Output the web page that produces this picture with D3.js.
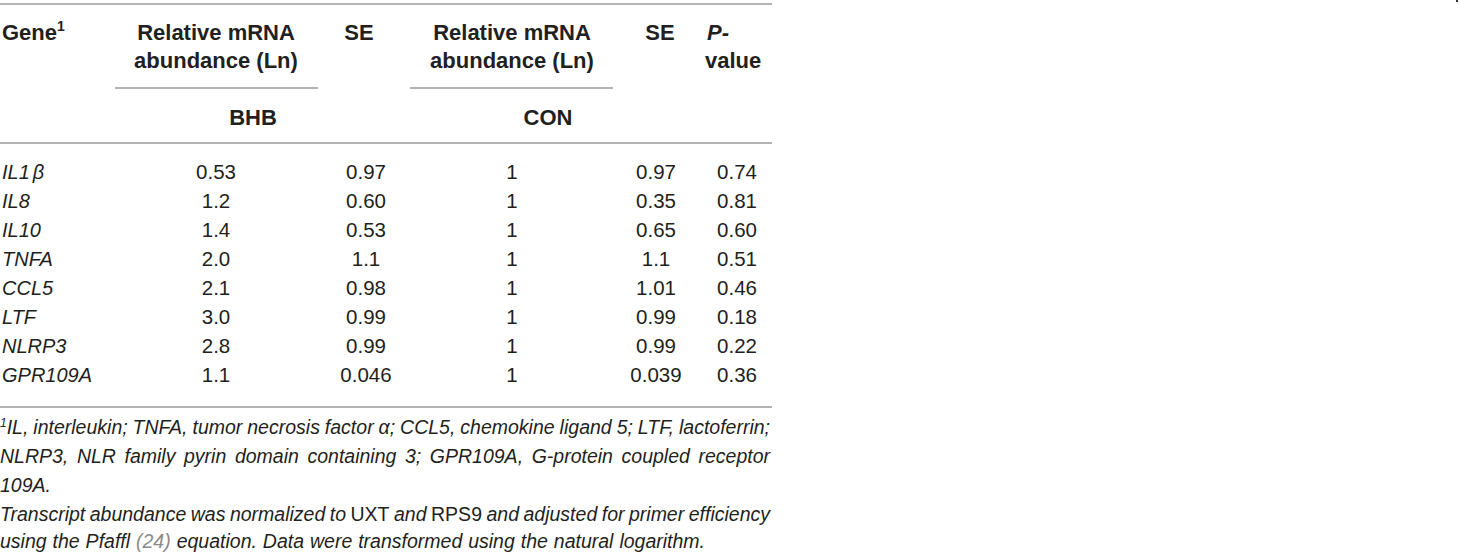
<!DOCTYPE html>
<html>
  <head>
    <meta charset="utf-8" />
    <title>Relative mRNA abundance table</title>
    <style>
      body {
        margin: 0;
        background: #fff;
      }
      text {
        font-family: 'Liberation Sans', Arial, sans-serif;
        fill: #231f20;
      }
      .rule {
        stroke: #9a9a9a;
        stroke-width: 1.5px;
      }
      .head {
        font-size: 22px;
        font-weight: bold;
      }
      .cell {
        font-size: 20.5px;
      }
      .gene {
        font-size: 20px;
        font-style: italic;
      }
      .note {
        font-size: 19.5px;
        font-style: italic;
      }
    </style>
    <script src="https://d3js.org/d3.v7.min.js"></script>
  </head>
  <body>
    <svg width="1460" height="554"></svg>
    <script>
      // table values
      var genes = ['IL1β', 'IL8', 'IL10', 'TNFA', 'CCL5', 'LTF', 'NLRP3', 'GPR109A']
      var bhb = ['0.53', '1.2', '1.4', '2.0', '2.1', '3.0', '2.8', '1.1']
      var seBhb = ['0.97', '0.60', '0.53', '1.1', '0.98', '0.99', '0.99', '0.046']
      var con = ['1', '1', '1', '1', '1', '1', '1', '1']
      var seCon = ['0.97', '0.35', '0.65', '1.1', '1.01', '0.99', '0.99', '0.039']
      var pValues = ['0.74', '0.81', '0.60', '0.51', '0.46', '0.18', '0.22', '0.36']

      var svg = d3.select('svg')

      // rows
      var y = d3.scalePoint().domain(genes).range([179, 382])

      // columns (x is the centre of each column)
      var columns = [
        { values: bhb, x: 216 },
        { values: seBhb, x: 366 },
        { values: con, x: 512 },
        { values: seCon, x: 656 },
        { values: pValues, x: 737 },
      ]

      // rules
      var rules = [
        { x1: 0, x2: 772, y: 4 },
        { x1: 115, x2: 318, y: 88 },
        { x1: 410, x2: 613, y: 88 },
        { x1: 0, x2: 772, y: 143 },
        { x1: 0, x2: 772, y: 407 },
      ]
      svg
        .selectAll('.rule')
        .data(rules)
        .enter()
        .append('line')
        .attr('class', 'rule')
        .attr('x1', function (d) {
          return d.x1
        })
        .attr('x2', function (d) {
          return d.x2
        })
        .attr('y1', function (d) {
          return d.y
        })
        .attr('y2', function (d) {
          return d.y
        })

      // header
      var gene = svg.append('text').attr('class', 'head').attr('x', 2).attr('y', 40)
      gene.append('tspan').text('Gene')
      gene.append('tspan').attr('font-size', 14).attr('dy', -9).text('1')

      var heads = [
        { x: 216, lines: ['Relative mRNA', 'abundance (Ln)'] },
        { x: 359, lines: ['SE'] },
        { x: 512, lines: ['Relative mRNA', 'abundance (Ln)'] },
        { x: 660, lines: ['SE'] },
      ]
      heads.forEach(function (h) {
        h.lines.forEach(function (s, i) {
          svg
            .append('text')
            .attr('class', 'head')
            .attr('x', h.x)
            .attr('y', 40 + i * 28)
            .attr('text-anchor', 'middle')
            .text(s)
        })
      })
      svg
        .append('text')
        .attr('class', 'head')
        .attr('x', 707)
        .attr('y', 40)
        .attr('font-style', 'italic')
        .text('P-')
      svg.append('text').attr('class', 'head').attr('x', 705).attr('y', 68).text('value')

      svg
        .selectAll('.group')
        .data([
          { name: 'BHB', x: 253 },
          { name: 'CON', x: 548 },
        ])
        .enter()
        .append('text')
        .attr('class', 'head group')
        .attr('x', function (d) {
          return d.x
        })
        .attr('y', 125)
        .attr('text-anchor', 'middle')
        .text(function (d) {
          return d.name
        })

      // gene names
      svg
        .selectAll('.gene')
        .data(genes)
        .enter()
        .append('text')
        .attr('class', 'gene')
        .attr('x', 2)
        .attr('y', function (d) {
          return y(d)
        })
        .each(function (d) {
          var t = d3.select(this)
          if (d === 'IL1β') {
            t.append('tspan').text('IL1')
            t.append('tspan').attr('dx', 3).text('β')
          } else {
            t.text(d)
          }
        })

      // value cells
      columns.forEach(function (c) {
        svg
          .append('g')
          .selectAll('text')
          .data(c.values)
          .enter()
          .append('text')
          .attr('class', 'cell')
          .attr('x', c.x)
          .attr('y', function (d, i) {
            return y(genes[i])
          })
          .attr('text-anchor', 'middle')
          .text(function (d) {
            return d
          })
      })

      // footnotes: spread or squeeze the word gaps so a line fills the width
      function justify(sel, width) {
        var node = sel.node()
        var w = node.getComputedTextLength()
        var spaces = (node.textContent.match(/ /g) || []).length
        if (!spaces) return
        var ws = (width - w) / spaces
        if (ws < -3) {
          // too long even with tight gaps: shrink the letters a little too
          var chars = node.textContent.length
          sel.attr('letter-spacing', (width - w + 3 * spaces) / chars)
          ws = -3
        }
        sel.attr('word-spacing', ws)
      }

      var n1 = svg.append('text').attr('class', 'note').attr('x', 0).attr('y', 434)
      n1.append('tspan').attr('font-size', 12).attr('dy', -7).text('1')
      n1.append('tspan')
        .attr('dy', 7)
        .text('IL, interleukin; TNFA, tumor necrosis factor α; CCL5, chemokine ligand 5; LTF, lactoferrin;')
      justify(n1, 770)

      var n2 = svg
        .append('text')
        .attr('class', 'note')
        .attr('x', 0)
        .attr('y', 463)
        .text('NLRP3, NLR family pyrin domain containing 3; GPR109A, G-protein coupled receptor')
      justify(n2, 770)

      svg.append('text').attr('class', 'note').attr('x', 0).attr('y', 492).text('109A.')

      var n4 = svg.append('text').attr('class', 'note').attr('x', 0).attr('y', 521)
      n4.append('tspan').text('Transcript abundance was normalized to ')
      n4.append('tspan').attr('font-style', 'normal').text('UXT')
      n4.append('tspan').text(' and ')
      n4.append('tspan').attr('font-style', 'normal').text('RPS9')
      n4.append('tspan').text(' and adjusted for primer efficiency')
      justify(n4, 770)

      var n5 = svg.append('text').attr('class', 'note').attr('x', 0).attr('y', 548)
      n5.append('tspan').text('using the Pfaffl ')
      n5.append('tspan').style('fill', '#8a8a8a').text('(24)')
      n5.append('tspan').text(' equation. Data were transformed using the natural logarithm.')
      justify(n5, 705)

      // small speck in the top right corner of the original
      svg.append('rect').attr('x', 1456).attr('y', 0).attr('width', 2).attr('height', 2).style('fill', '#333')
    </script>
  </body>
</html>
